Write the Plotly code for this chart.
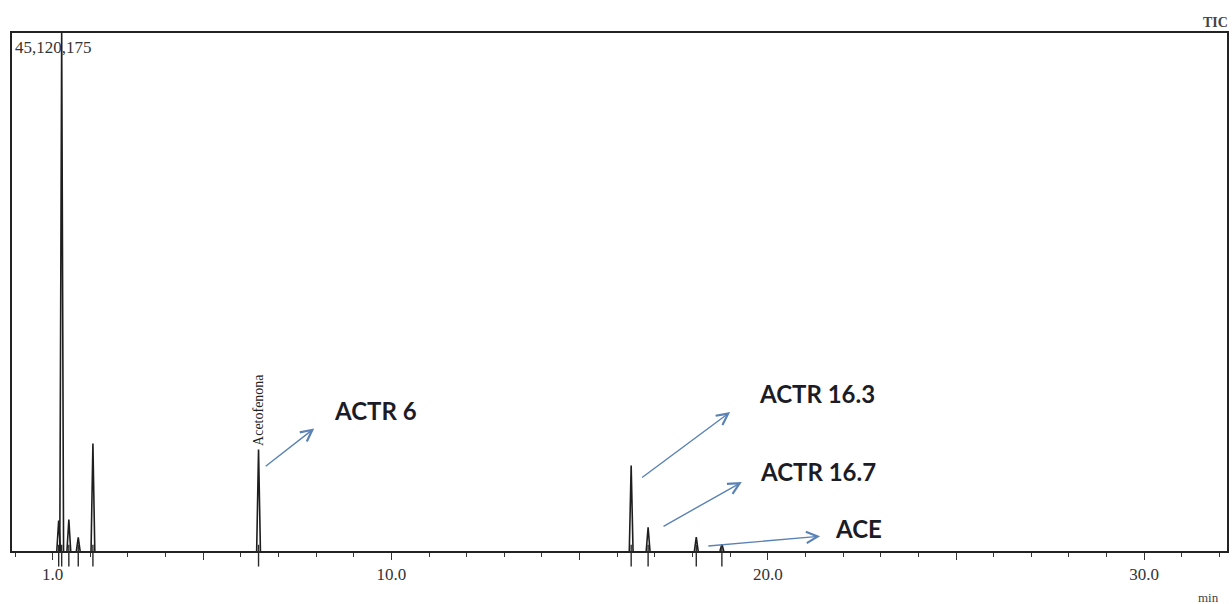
import plotly.graph_objects as go

# Retention times (min) and TIC heights (counts) of the detected peaks
peak_rt = [1.16, 1.24, 1.43, 1.68, 2.07, 6.47, 16.37, 16.82, 18.10, 18.78]
peak_height = [2660000, 45120175, 2750000, 1180000, 9370000, 8850000,
               7450000, 2070000, 1200000, 600000]

# x-axis tick labels
tick_vals = [1, 5, 10, 15, 20, 25, 30]
tick_text = ["1.0", "", "10.0", "", "20.0", "", "30.0"]

# Labelled compounds: (text, label x, label y, arrow tail x, tail y, head x, head y)
callouts = [
    ("ACTR 6", 8.43, 12250000, 6.62, 7280000, 7.95, 10680000),
    ("ACTR 16.3", 19.70, 13730000, 16.62, 6300000, 19.00, 12100000),
    ("ACTR 16.7", 19.75, 6930000, 17.19, 2080000, 19.31, 6000000),
    ("ACE", 21.74, 1960000, 18.38, 420000, 21.39, 1290000),
]

full_scale = max(peak_height)
half_width = 0.05

# Build the chromatogram as narrow triangular peaks on the baseline
xs, ys = [], []
for rt, h in zip(peak_rt, peak_height):
    xs += [rt - half_width, rt, rt + half_width, None]
    ys += [0, h, 0, None]

fig = go.Figure()
fig.add_trace(go.Scatter(
    x=xs, y=ys, mode="lines",
    line=dict(color="#1e1e1e", width=1.6),
    hoverinfo="skip", showlegend=False,
))

# Integration markers at each peak, crossing the baseline
shapes = []
for rt in peak_rt:
    shapes.append(dict(
        type="line", xref="x", yref="paper", x0=rt, x1=rt, y0=-0.03, y1=0.012,
        line=dict(color="#2a2a2a", width=1.4), layer="above",
    ))

serif = "Liberation Serif, Times New Roman, serif"
annotations = []
for text, lx, ly, tx, ty, hx, hy in callouts:
    annotations.append(dict(
        x=hx, y=hy, ax=tx, ay=ty, xref="x", yref="y", axref="x", ayref="y",
        text="", showarrow=True, arrowhead=5, arrowsize=1.6, arrowwidth=1.4,
        arrowcolor="#5a82b4", standoff=0, startstandoff=0,
    ))
    annotations.append(dict(
        x=lx, y=ly, xref="x", yref="y", text="<b>%s</b>" % text,
        showarrow=False, xanchor="left", yanchor="middle",
        font=dict(family="Lato, Open Sans, sans-serif", size=24, color="#1c1c26"),
    ))

# Compound name printed vertically above the acetophenone peak
ace_idx = peak_rt.index(6.47)
annotations.append(dict(
    x=peak_rt[ace_idx], y=peak_height[ace_idx], xref="x", yref="y",
    text="Acetofenona", textangle=-90, showarrow=False,
    xanchor="center", yanchor="bottom", yshift=1,
    font=dict(family=serif, size=14, color="#222222"),
))
# Full-scale intensity
annotations.append(dict(
    x=0, y=1, xref="paper", yref="paper", xanchor="left", yanchor="top",
    yshift=-3, xshift=1,
    text=f"{full_scale:,}", showarrow=False,
    font=dict(family=serif, size=17, color="#333333"),
))
annotations.append(dict(
    x=1, y=1, xref="paper", yref="paper", xanchor="right", yanchor="bottom",
    xshift=3, yshift=1, text="<b>TIC</b>", showarrow=False,
    font=dict(family=serif, size=14, color="#444444"),
))
annotations.append(dict(
    x=1, y=0, xref="paper", yref="paper", xanchor="right", yanchor="top",
    xshift=-6, yshift=-37, text="min", showarrow=False,
    font=dict(family=serif, size=13, color="#444444"),
))

fig.update_layout(
    width=1232, height=604,
    margin=dict(l=12, r=3, t=33, b=53),
    paper_bgcolor="white", plot_bgcolor="white",
    annotations=annotations,
    shapes=shapes,
    xaxis=dict(
        range=[-0.08, 32.2], showgrid=False, zeroline=False,
        showline=True, mirror=True, linecolor="#222222", linewidth=1.8,
        tickmode="array", tickvals=tick_vals, ticktext=tick_text,
        ticks="outside", ticklen=7, tickwidth=1.4, tickcolor="#333333",
        ticklabelstandoff=0,
        tickfont=dict(family=serif, size=17, color="#333333"),
        minor=dict(ticks="outside", tick0=0, dtick=1, ticklen=4,
                   tickwidth=1.2, tickcolor="#333333", showgrid=False),
    ),
    yaxis=dict(
        range=[0, full_scale], showgrid=False, zeroline=False,
        showline=True, mirror=True, linecolor="#222222", linewidth=1.5,
        showticklabels=False, ticks="",
    ),
)

fig.write_html("out.html")
